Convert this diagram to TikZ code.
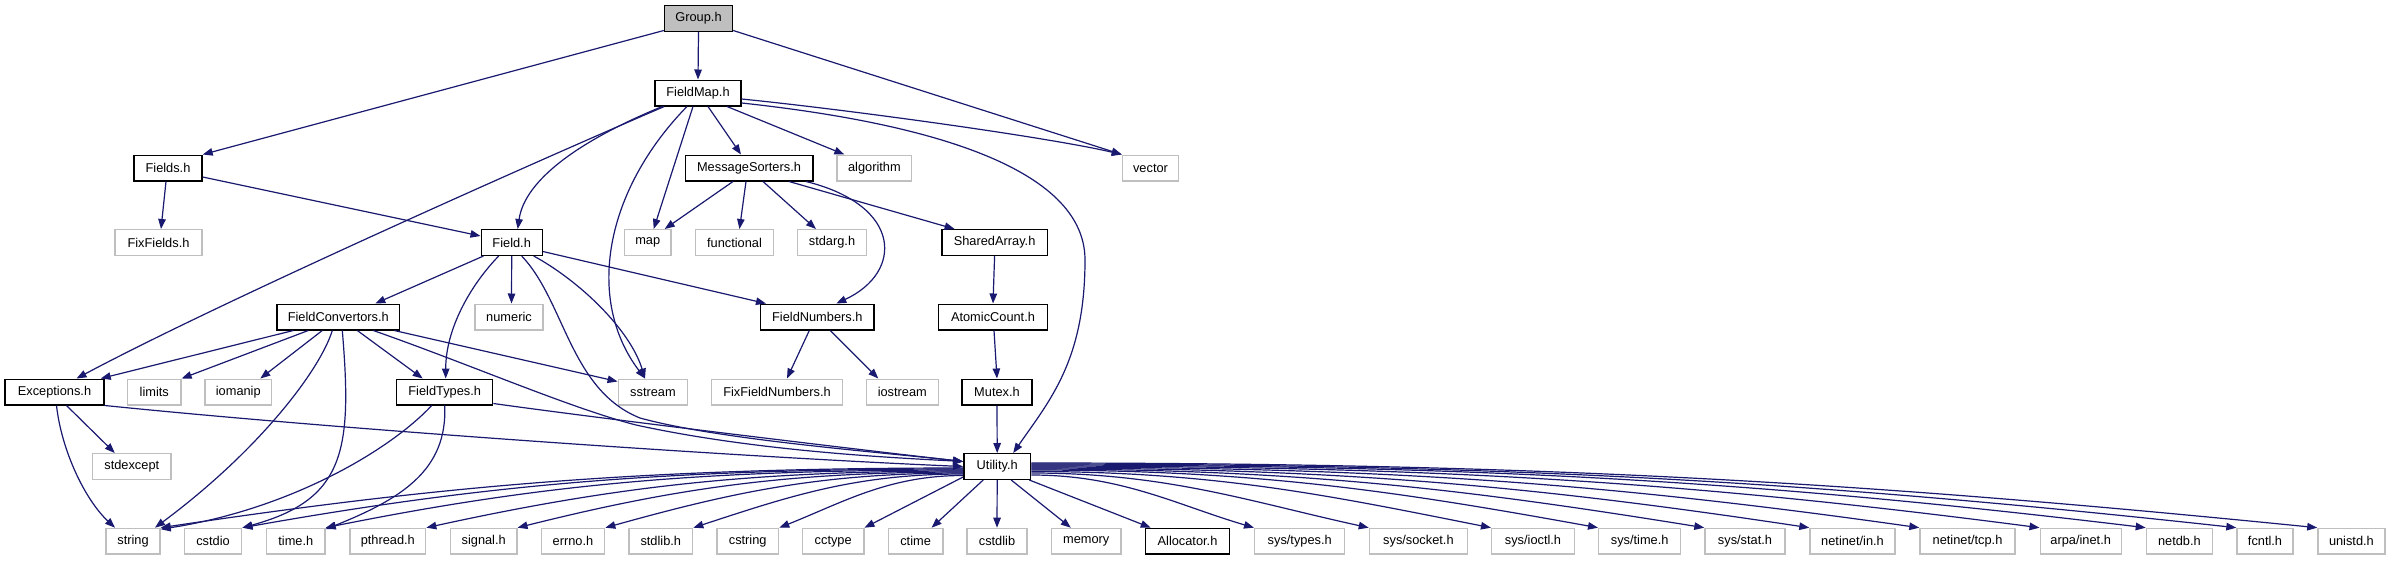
\documentclass[tikz,border=0pt]{standalone}
\usepackage{fontspec}
\setmainfont{Liberation Sans}
\usetikzlibrary{arrows.meta}
\definecolor{edgecol}{HTML}{191970}
\definecolor{extgray}{HTML}{BFBFBF}
\begin{document}
\begin{tikzpicture}[x=1pt,y=-1pt,
  bx/.style={rectangle, minimum height=25.6pt, inner sep=0pt, font=\fontsize{12.8}{15}\selectfont, line width=1.4pt},
  docbox/.style={bx, draw=black, fill=white},
  extbox/.style={bx, draw=extgray, fill=white},
  mainbox/.style={bx, draw=black, fill=extgray},
  dep/.style={draw=edgecol, line width=1.2pt, -{Triangle[length=10pt,width=7.5pt]}},
]
\useasboundingbox[fill=white] (0,0) rectangle (2391,560);

% nodes
\node[mainbox, minimum width=68pt] (group) at (698.5,18.5) {Group.h};
\node[docbox, minimum width=86pt] (fieldmap) at (698,93) {FieldMap.h};
\node[docbox, minimum width=68pt] (fields) at (168,168) {Fields.h};
\node[docbox, minimum width=127.6pt] (msgsort) at (749,168) {MessageSorters.h};
\node[extbox, minimum width=74.7pt] (algorithm) at (874.4,168) {algorithm};
\node[extbox, minimum width=56pt] (vector) at (1150.5,168) {vector};
\node[extbox, minimum width=87pt] (fixfields) at (158.5,242.5) {FixFields.h};
\node[docbox, minimum width=61pt] (field) at (511.7,242.5) {Field.h};
\node[extbox, minimum width=46.5pt] (map) at (647.7,242.5) {map};
\node[extbox, minimum width=78pt] (functional) at (734.5,242.5) {functional};
\node[extbox, minimum width=69pt] (stdarg) at (832,242.5) {stdarg.h};
\node[docbox, minimum width=105.6pt] (sharedarray) at (994.6,242.5) {SharedArray.h};
\node[docbox, minimum width=122.5pt] (fieldconv) at (338.3,317) {FieldConvertors.h};
\node[extbox, minimum width=68pt] (numeric) at (509,317) {numeric};
\node[docbox, minimum width=113.3pt] (fieldnumbers) at (817.3,317) {FieldNumbers.h};
\node[docbox, minimum width=108.6pt] (atomic) at (993,317) {AtomicCount.h};
\node[docbox, minimum width=99pt] (exceptions) at (54.5,392) {Exceptions.h};
\node[extbox, minimum width=53.3pt] (limits) at (154.3,392) {limits};
\node[extbox, minimum width=66.7pt] (iomanip) at (238.3,392) {iomanip};
\node[docbox, minimum width=96pt] (fieldtypes) at (444.7,392) {FieldTypes.h};
\node[extbox, minimum width=69.5pt] (sstream) at (653,392) {sstream};
\node[extbox, minimum width=130.6pt] (fixfieldnumbers) at (777,392) {FixFieldNumbers.h};
\node[extbox, minimum width=72pt] (iostream) at (902.3,392) {iostream};
\node[docbox, minimum width=70pt] (mutex) at (997,392) {Mutex.h};
\node[extbox, minimum width=78.3pt] (stdexcept) at (131.8,466.5) {stdexcept};
\node[docbox, minimum width=66.8pt] (utility) at (997.2,466.5) {Utility.h};

\node[extbox, minimum width=54pt] (string) at (133,541.2) {string};
\node[extbox, minimum width=57.4pt] (cstdio) at (213,541.2) {cstdio};
\node[extbox, minimum width=58.3pt] (timeh) at (295.8,541.2) {time.h};
\node[extbox, minimum width=75.7pt] (pthread) at (387.8,541.2) {pthread.h};
\node[extbox, minimum width=66.3pt] (signal) at (483.7,541.2) {signal.h};
\node[extbox, minimum width=63.3pt] (errno) at (573,541.2) {errno.h};
\node[extbox, minimum width=63.7pt] (stdlib) at (660.8,541.2) {stdlib.h};
\node[extbox, minimum width=61.8pt] (cstring) at (747.7,541.2) {cstring};
\node[extbox, minimum width=61.2pt] (cctype) at (833.2,541.2) {cctype};
\node[extbox, minimum width=54.6pt] (ctime) at (915.6,541.2) {ctime};
\node[extbox, minimum width=60.2pt] (cstdlib) at (997,541.2) {cstdlib};
\node[extbox, minimum width=69.4pt] (memory) at (1086.2,541.2) {memory};
\node[docbox, minimum width=84.2pt] (allocator) at (1187.5,541.2) {Allocator.h};
\node[extbox, minimum width=90pt] (systypes) at (1299.7,541.2) {sys/types.h};
\node[extbox, minimum width=98pt] (syssocket) at (1418.4,541.2) {sys/socket.h};
\node[extbox, minimum width=82.7pt] (sysioctl) at (1533,541.2) {sys/ioctl.h};
\node[extbox, minimum width=82pt] (systime) at (1639.7,541.2) {sys/time.h};
\node[extbox, minimum width=80pt] (sysstat) at (1745,541.2) {sys/stat.h};
\node[extbox, minimum width=85pt] (netin) at (1852.5,541.2) {netinet/in.h};
\node[extbox, minimum width=95pt] (nettcp) at (1967.5,541.2) {netinet/tcp.h};
\node[extbox, minimum width=81pt] (arpainet) at (2080.7,541.2) {arpa/inet.h};
\node[extbox, minimum width=66pt] (netdb) at (2179.4,541.2) {netdb.h};
\node[extbox, minimum width=56pt] (fcntl) at (2265,541.2) {fcntl.h};
\node[extbox, minimum width=67pt] (unistd) at (2351.4,541.2) {unistd.h};

% Group.h
\draw[dep] ([yshift=1.5pt]group.south west) -- (fields.north east);
\draw[dep] (group.south) -- (fieldmap.north);
\draw[dep] ([yshift=1.5pt]group.south east) -- (vector.north west);

% FieldMap.h
\draw[dep] ([xshift=10pt]fieldmap.south west) .. controls +(-103,44) and +(150,-80) .. ([xshift=22pt]exceptions.north);
\draw[dep] ([xshift=8pt]fieldmap.south west) .. controls +(-83,34) and +(7,-49) .. ([xshift=6pt]field.north);
\draw[dep] ([xshift=-11pt]fieldmap.south) .. controls +(-82,84) and +(-60,-79) .. ([xshift=-8pt]sstream.north);
\draw[dep] ([xshift=-5pt]fieldmap.south) -- ([xshift=6pt]map.north);
\draw[dep] ([xshift=10pt]fieldmap.south) -- ([xshift=-8pt]msgsort.north);
\draw[dep] ([xshift=29pt]fieldmap.south) -- ([xshift=8pt]algorithm.north west);
\draw[dep] ([yshift=-6pt]fieldmap.east) .. controls +(109,11) and +(-72,-17) .. (vector.north west);
\draw[dep] ([yshift=-10pt]fieldmap.east) .. controls +(158,17) and (1085,160) .. (1085,260) .. controls (1085,360) and (1050,400) .. ([xshift=16pt]utility.north);

% Fields.h
\draw[dep] ([xshift=-2pt]fields.south) -- ([xshift=2.5pt]fixfields.north);
\draw[dep] ([yshift=-9pt]fields.east) -- ([yshift=6.5pt]field.west);

% MessageSorters.h
\draw[dep] ([xshift=-16pt]msgsort.south) -- ([xshift=17pt]map.north);
\draw[dep] ([xshift=-3pt]msgsort.south) -- ([xshift=5pt]functional.north);
\draw[dep] ([xshift=14pt]msgsort.south) -- ([xshift=-16pt]stdarg.north);
\draw[dep] ([xshift=40pt]msgsort.south) -- ([xshift=-40pt]sharedarray.north);
\draw[dep] ([xshift=57pt]msgsort.south) .. controls +(97,24) and +(67,-31) .. ([xshift=19pt]fieldnumbers.north);

% chain
\draw[dep] (sharedarray.south) -- (atomic.north);
\draw[dep] ([xshift=1pt]atomic.south) -- (mutex.north);
\draw[dep] (mutex.south) -- (utility.north);

% Field.h
\draw[dep] ([xshift=3pt]field.south west) -- ([xshift=37pt]fieldconv.north);
\draw[dep] ([xshift=-13pt]field.south) .. controls +(-29,30) and +(0,-49) .. ([xshift=1pt]fieldtypes.north);
\draw[dep] (field.south) -- ([xshift=2.5pt]numeric.north);
\draw[dep] ([xshift=22pt]field.south) .. controls +(46,25) and +(-15,-49) .. ([xshift=-8pt]sstream.north);
\draw[dep] ([yshift=-9pt]field.east) -- ([xshift=6pt]fieldnumbers.north west);
\draw[dep] ([xshift=10pt]field.south) .. controls +(43,45) and (570,390) .. (640,418) .. controls (720,440) and (880,452) .. ([yshift=5pt]utility.west);

% FieldConvertors.h
\draw[dep] ([xshift=-45pt]fieldconv.south) -- ([xshift=-4pt]exceptions.north east);
\draw[dep] ([xshift=-30pt]fieldconv.south) -- (limits.north east);
\draw[dep] ([xshift=-16pt]fieldconv.south) -- ([xshift=22pt]iomanip.north);
\draw[dep] ([xshift=-6pt]fieldconv.south) .. controls +(-12,39) and +(105,-78) .. ([xshift=22pt]string.north);
\draw[dep] ([xshift=4pt]fieldconv.south) .. controls +(10,119) and +(103,-28) .. (cstdio.north east);
\draw[dep] ([xshift=19pt]fieldconv.south) -- ([xshift=-22pt]fieldtypes.north);
\draw[dep] ([xshift=35pt]fieldconv.south) .. controls +(97,34) and (570,408) .. (636,425) .. controls (760,452) and (900,458) .. ([yshift=5pt]utility.west);
\draw[dep] ([xshift=-6pt]fieldconv.south east) -- ([yshift=-3pt]sstream.north west);

% FieldNumbers.h
\draw[dep] ([xshift=-8pt]fieldnumbers.south) -- ([xshift=10pt]fixfieldnumbers.north);
\draw[dep] ([xshift=13pt]fieldnumbers.south) -- ([xshift=-24pt]iostream.north);

% Exceptions.h
\draw[dep] ([xshift=2pt]exceptions.south) .. controls +(5,45) and +(-30,-28) .. ([xshift=-18pt]string.north);
\draw[dep] ([xshift=12pt]exceptions.south) -- ([xshift=-17pt]stdexcept.north);
\draw[dep] (exceptions.south east) .. controls +(246,25) and +(-214,-9) .. (utility.west);

% FieldTypes.h
\draw[dep] ([xshift=-13pt]fieldtypes.south) .. controls +(-42,45) and +(129,-20) .. ([yshift=-1.5pt]string.north east);
\draw[dep] (fieldtypes.south) .. controls +(3,65) and +(75,-30) .. ([yshift=-1.5pt]timeh.north east);
\draw[dep] ([yshift=2pt]fieldtypes.south east) .. controls +(107,15) and +(-114,-13) .. ([yshift=5pt]utility.west);

% Utility.h -- left fan
\draw[dep] ([yshift=-1.5pt]utility.west) .. controls +(-322,0) and +(281,-42) .. (string.north east);
\draw[dep] ([yshift=-2.5pt]utility.west) .. controls +(-289,0) and +(253,-45) .. (cstdio.north east);
\draw[dep] ([yshift=-3.5pt]utility.west) .. controls +(-256,0) and +(224,-45) .. (timeh.north east);
\draw[dep] ([yshift=-4.5pt]utility.west) .. controls +(-215,0) and +(188,-41) .. (pthread.north east);
\draw[dep] ([yshift=-5.5pt]utility.west) .. controls +(-179,0) and +(156,-39) .. (signal.north east);
\draw[dep] ([yshift=-6.5pt]utility.west) .. controls +(-144,0) and +(126,-35) .. (errno.north east);
\draw[dep] ([yshift=-7.5pt]utility.west) .. controls +(-109,0) and +(95,-31) .. (stdlib.north east);
\draw[dep] ([yshift=-9pt]utility.west) .. controls +(-74,0) and +(65,-26) .. (cstring.north east);
\draw[dep] ([yshift=-10.5pt]utility.west) -- (cctype.north east);
\draw[dep] ([xshift=-14pt]utility.south) -- ([xshift=16pt]ctime.north);
\draw[dep] (utility.south) -- (cstdlib.north);

% Utility.h -- right fan
\draw[dep] ([xshift=14pt]utility.south) -- ([xshift=20pt]memory.north west);
\draw[dep] ([xshift=-2pt]utility.south east) -- ([xshift=6pt]allocator.north west);
\draw[dep] ([yshift=-8.5pt]utility.east) .. controls +(90,0) and +(-78,-23) .. (systypes.north west);
\draw[dep] ([yshift=-6.5pt]utility.east) .. controls +(136,0) and +(-119,-26) .. (syssocket.north west);
\draw[dep] ([yshift=-5pt]utility.east) .. controls +(184,0) and +(-161,-32) .. (sysioctl.north west);
\draw[dep] ([yshift=-3.5pt]utility.east) .. controls +(227,0) and +(-199,-36) .. (systime.north west);
\draw[dep] ([yshift=-2.5pt]utility.east) .. controls +(270,0) and +(-236,-38) .. (sysstat.north west);
\draw[dep] ([yshift=-1.5pt]utility.east) .. controls +(312,0) and +(-273,-41) .. (netin.north west);
\draw[dep] ([yshift=-0.5pt]utility.east) .. controls +(356,0) and +(-311,-44) .. (nettcp.north west);
\draw[dep] ([yshift=0.5pt]utility.east) .. controls +(404,0) and +(-353,-46) .. (arpainet.north west);
\draw[dep] ([yshift=1.5pt]utility.east) .. controls +(446,0) and +(-391,-47) .. (netdb.north west);
\draw[dep] ([yshift=2.5pt]utility.east) .. controls +(482,0) and +(-422,-46) .. (fcntl.north west);
\draw[dep] ([yshift=3.5pt]utility.east) .. controls +(515,0) and +(-450,-45) .. (unistd.north west);
\end{tikzpicture}
\end{document}
